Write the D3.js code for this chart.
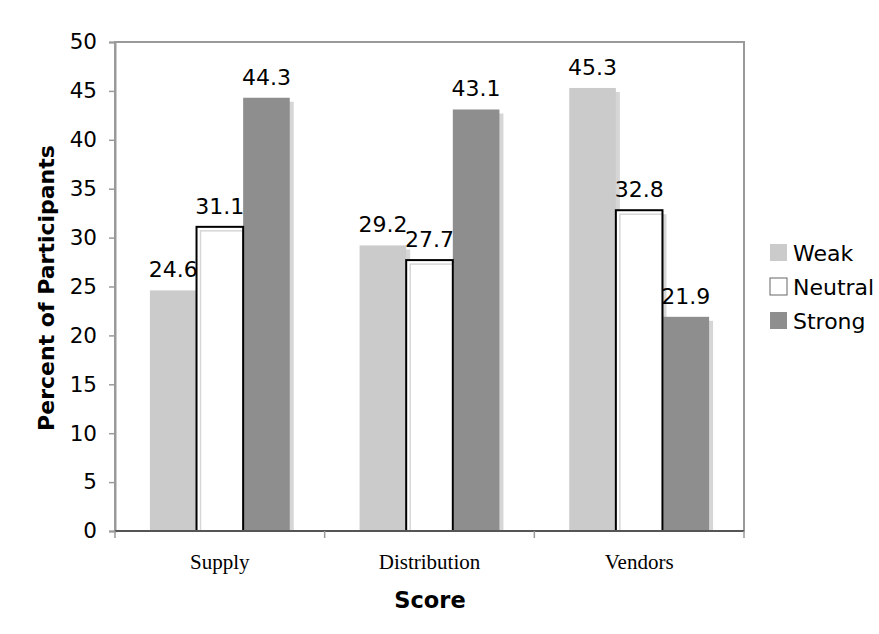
<!DOCTYPE html>
<html><head><meta charset="utf-8">
<script src="https://cdn.jsdelivr.net/npm/d3@7"></script>
<style>body{margin:0;background:#fff}</style>
</head><body>
<svg id="c" width="879" height="634"></svg>
<script>
const categories = ["Supply", "Distribution", "Vendors"];
const seriesNames = ["Weak", "Neutral", "Strong"];
const weak = [24.6, 29.2, 45.3];
const neutral = [31.1, 27.7, 32.8];
const strong = [44.3, 43.1, 21.9];
const yTicks = [0, 5, 10, 15, 20, 25, 30, 35, 40, 45, 50];
const colors = ["#cbcbcb", "#ffffff", "#8e8e8e"];

const series = [weak, neutral, strong];
const svg = d3.select("#c");
const L = 115, R = 744, T = 42, B = 531;
const x0 = d3.scaleBand().domain(categories).range([L, R]).paddingInner(0.333).paddingOuter(0.1665);
const x1 = d3.scaleBand().domain(seriesNames).range([0, x0.bandwidth()]);
const y = d3.scaleLinear().domain([0, 50]).range([B, T]);

// plot box
svg.append("rect").attr("x", L).attr("y", T).attr("width", R - L).attr("height", B - T)
  .attr("fill", "none").attr("stroke", "#9a9a9a").attr("stroke-width", 2);

const sans = "Verdana, 'DejaVu Sans', sans-serif";
const data = [];
categories.forEach((c, i) => seriesNames.forEach((s, j) => data.push({c, s, j, v: series[j][i]})));

const g = svg.append("g");
// shadows
g.selectAll("rect.sh").data(data).enter().append("rect")
  .attr("x", d => x0(d.c) + x1(d.s) + 4)
  .attr("y", d => y(d.v) + 4)
  .attr("width", x1.bandwidth())
  .attr("height", d => B - y(d.v) - 4)
  .attr("fill", "#d6d6d6");
// bars
g.selectAll("rect.bar").data(data).enter().append("rect")
  .attr("x", d => x0(d.c) + x1(d.s))
  .attr("y", d => y(d.v))
  .attr("width", x1.bandwidth())
  .attr("height", d => B - y(d.v))
  .attr("fill", d => colors[d.j]);
// neutral inner shadow line + outline
const neu = data.filter(d => d.j === 1);
g.selectAll("rect.ni").data(neu).enter().append("rect")
  .attr("x", d => x0(d.c) + x1(d.s) + 4)
  .attr("y", d => y(d.v) + 4)
  .attr("width", x1.bandwidth() - 4)
  .attr("height", d => B - y(d.v) - 4)
  .attr("fill", "none").attr("stroke", "#d6d6d6").attr("stroke-width", 1.5);
g.selectAll("rect.no").data(neu).enter().append("rect")
  .attr("x", d => x0(d.c) + x1(d.s))
  .attr("y", d => y(d.v))
  .attr("width", x1.bandwidth())
  .attr("height", d => B - y(d.v))
  .attr("fill", "none").attr("stroke", "#000").attr("stroke-width", 2);

// value labels
g.selectAll("text.v").data(data).enter().append("text")
  .attr("x", d => x0(d.c) + x1(d.s) + x1.bandwidth() / 2)
  .attr("y", d => y(d.v) - 13)
  .attr("text-anchor", "middle")
  .attr("font-family", sans).attr("font-size", 22).attr("fill", "#000")
  .text(d => d.v.toFixed(1));

// y axis
const ya = svg.append("g").attr("transform", `translate(${L},0)`)
  .call(d3.axisLeft(y).tickValues(yTicks).tickSize(6).tickPadding(12).tickFormat(d3.format("d")));
ya.select(".domain").attr("stroke", "#9a9a9a").attr("stroke-width", 2);
ya.selectAll(".tick line").attr("stroke", "#9a9a9a").attr("stroke-width", 1.5);
ya.selectAll(".tick text").attr("font-family", sans).attr("font-size", 21.5).attr("fill", "#000");

// x axis
const xa = svg.append("g").attr("transform", `translate(0,${B})`);
xa.append("line").attr("x1", L).attr("x2", R).attr("y1", 0).attr("y2", 0)
  .attr("stroke", "#555").attr("stroke-width", 2);
const bounds = [L, ...categories.map(c => x0(c) + x0.bandwidth() + x0.step() * x0.paddingInner() / 2)];
xa.selectAll("line.t").data(bounds).enter().append("line")
  .attr("x1", d => d).attr("x2", d => d).attr("y1", 0).attr("y2", 7)
  .attr("stroke", "#9a9a9a").attr("stroke-width", 1.5);
xa.selectAll("text.c").data(categories).enter().append("text")
  .attr("x", c => x0(c) + x0.bandwidth() / 2).attr("y", 38)
  .attr("text-anchor", "middle").attr("font-family", "'Liberation Serif', 'Times New Roman', serif")
  .attr("font-size", 21).attr("fill", "#000").text(c => c);

// axis titles
svg.append("text").attr("x", 430).attr("y", 608).attr("text-anchor", "middle")
  .attr("font-family", sans).attr("font-weight", "bold").attr("font-size", 22.5).text("Score");
svg.append("text").attr("transform", "translate(54,288) rotate(-90)").attr("text-anchor", "middle")
  .attr("font-family", sans).attr("font-weight", "bold").attr("font-size", 22).text("Percent of Participants");

// legend
const lg = svg.append("g").attr("transform", "translate(770,244)");
seriesNames.forEach((s, i) => {
  const row = lg.append("g").attr("transform", `translate(0,${i * 34})`);
  row.append("rect").attr("x", 0).attr("y", 0).attr("width", 17).attr("height", 17)
    .attr("fill", colors[i]).attr("stroke", i === 1 ? "#666" : "none").attr("stroke-width", 1);
  row.append("text").attr("x", 23).attr("y", 17).attr("font-family", sans).attr("font-size", 22).text(s);
});
</script>
</body></html>
